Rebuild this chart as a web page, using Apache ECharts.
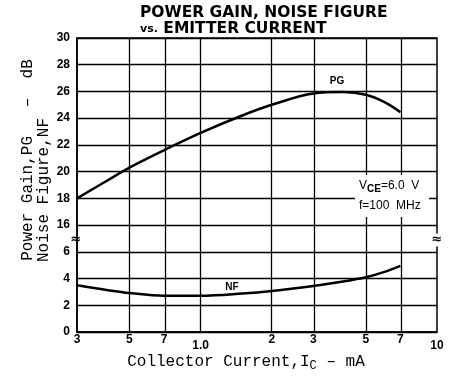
<!DOCTYPE html>
<html>
<head>
<meta charset="utf-8">
<script src="https://cdn.jsdelivr.net/npm/echarts@6/dist/echarts.min.js"></script>
<style>html,body{margin:0;padding:0;background:#fff}#c{width:461px;height:387px}</style>
</head>
<body>
<div id="c"></div>
<script>
// ---- data ----
const xTickValues = [0.3, 0.5, 0.7, 1, 2, 3, 5, 7, 10];
const xTickLabels = ['3', '5', '7', '1.0', '2', '3', '5', '7', '10'];
const xGridValues = [0.5, 0.7, 1, 2, 3, 5, 7];
const yTickLabels = ['0', '2', '4', '6', '16', '18', '20', '22', '24', '26', '28', '30'];
const currents = [0.3, 0.4, 0.5, 0.7, 1.0, 1.5, 2.0, 3.0, 4.0, 5.0, 6.0, 7.0];
const pgValues = [18.0, 19.3, 20.3, 21.6, 22.9, 24.2, 25.0, 25.85, 25.95, 25.75, 25.2, 24.45];
const nfValues = [3.5, 3.15, 2.92, 2.72, 2.72, 2.88, 3.07, 3.45, 3.78, 4.1, 4.5, 4.95];
const breakOffset = 8; // upper (PG) section: display = value - 8

const lg = v => Math.log10(v);
const pgData = currents.map((c, i) => [lg(c), pgValues[i] - breakOffset]);
const nfData = currents.map((c, i) => [lg(c), nfValues[i]]);
const tickLog = xTickValues.map(lg);

const chart = echarts.init(document.getElementById('c'), null, {renderer: 'canvas'});
const lineBlack = {color: '#000', width: 1.5};
const option = {
  animation: false,
  backgroundColor: '#fff',
  grid: {left: 77, right: 24, top: 38, bottom: 55, show: true, borderColor: '#000', borderWidth: 1.5, backgroundColor: 'transparent'},
  xAxis: {
    type: 'value', min: lg(0.3), max: 1,
    axisLine: {show: true, onZero: false, lineStyle: lineBlack},
    axisTick: {show: false, customValues: tickLog},
    splitLine: {show: false},
    axisLabel: {
      customValues: tickLog, margin: 2,
      color: '#000', fontFamily: 'Liberation Sans', fontWeight: 'bold', fontSize: 12,
      formatter: v => {
        let best = 0;
        tickLog.forEach((t, i) => { if (Math.abs(t - v) < Math.abs(tickLog[best] - v)) best = i; });
        const s = xTickLabels[best];
        return (s === '1.0' || s === '10') ? '{lo|' + s + '}' : s;
      },
      rich: {lo: {padding: [6, 0, 0, 0], color: '#000', fontFamily: 'Liberation Sans', fontWeight: 'bold', fontSize: 12}}
    }
  },
  yAxis: {
    type: 'value', min: 0, max: 22, interval: 2,
    axisLine: {show: true, onZero: false, lineStyle: lineBlack},
    axisTick: {show: false},
    splitLine: {show: true, lineStyle: {color: '#000', width: 1.3}},
    axisLabel: {
      margin: 7, color: '#000', fontFamily: 'Liberation Sans', fontWeight: 'bold', fontSize: 12,
      formatter: v => yTickLabels[Math.round(v / 2)]
    }
  },
  series: [
    {
      type: 'line', data: pgData, smooth: 0.35, showSymbol: false, symbol: 'none',
      lineStyle: {color: '#000', width: 2.5}, z: 5,
      markLine: {
        silent: true, symbol: 'none', animation: false,
        label: {show: false},
        lineStyle: {color: '#000', width: 1.3, type: 'solid'},
        data: xGridValues.map(v => ({xAxis: lg(v)}))
      }
    },
    {
      type: 'line', data: nfData, smooth: 0.35, showSymbol: false, symbol: 'none',
      lineStyle: {color: '#000', width: 2.5}, z: 5
    }
  ],
  graphic: [
    {type: 'text', x: 140, y: 5, z: 100, style: {text: 'POWER GAIN, NOISE FIGURE', font: 'bold 15.5px "DejaVu Sans"', fill: '#000'}},
    {type: 'text', x: 140, y: 21, z: 100, style: {text: '{s|vs.} EMITTER CURRENT', font: 'bold 15.5px "DejaVu Sans"', fill: '#000',
      rich: {s: {font: 'bold 11px "DejaVu Sans"', fill: '#000'}}}},
    {type: 'text', x: 28, y: 160, rotation: Math.PI / 2, z: 100,
      style: {text: 'Power Gain,PG   \u2013  dB', font: '16px "Liberation Mono"', fill: '#000', align: 'center', verticalAlign: 'middle'}},
    {type: 'text', x: 44, y: 190, rotation: Math.PI / 2, z: 100,
      style: {text: 'Noise Figure,NF', font: '16px "Liberation Mono"', fill: '#000', align: 'center', verticalAlign: 'middle'}},
    {type: 'text', x: 246, y: 362, z: 100,
      style: {text: 'Collector Current,I{sub|C} \u2013 mA', font: '16px "Liberation Mono"', fill: '#000', align: 'center', verticalAlign: 'middle',
        rich: {sub: {font: '12px "Liberation Mono"', fill: '#000', padding: [8, 0, 0, 0]}}}},
    {type: 'rect', shape: {x: 355, y: 175, width: 74, height: 42}, z: 90, style: {fill: '#fff'}},
    {type: 'text', x: 359, y: 186, z: 100,
      style: {text: 'V{sub|CE}=6.0  V', font: '12px "Liberation Sans"', fill: '#000', verticalAlign: 'middle',
        rich: {sub: {font: 'bold 10px "Liberation Sans"', fill: '#000', padding: [6, 0, 0, 0]}}}},
    {type: 'text', x: 359, y: 206, z: 100,
      style: {text: 'f=100  MHz', font: '12px "Liberation Sans"', fill: '#000', verticalAlign: 'middle'}},
    {type: 'text', x: 337, y: 81, z: 100, style: {text: 'PG', font: 'bold 10px "Liberation Sans"', fill: '#000', align: 'center', verticalAlign: 'middle'}},
    {type: 'text', x: 232, y: 287, z: 100, style: {text: 'NF', font: 'bold 10px "Liberation Sans"', fill: '#000', align: 'center', verticalAlign: 'middle'}},
    {type: 'text', x: 76, y: 240, z: 100, style: {text: '\u2248', font: 'bold 13px "DejaVu Sans"', fill: '#000', align: 'center', verticalAlign: 'middle'}},
    {type: 'text', x: 437, y: 240, z: 100, style: {text: '\u2248', font: 'bold 13px "DejaVu Sans"', fill: '#000', align: 'center', verticalAlign: 'middle', backgroundColor: '#fff'}}
  ]
};
chart.setOption(option);
</script>
</body>
</html>
